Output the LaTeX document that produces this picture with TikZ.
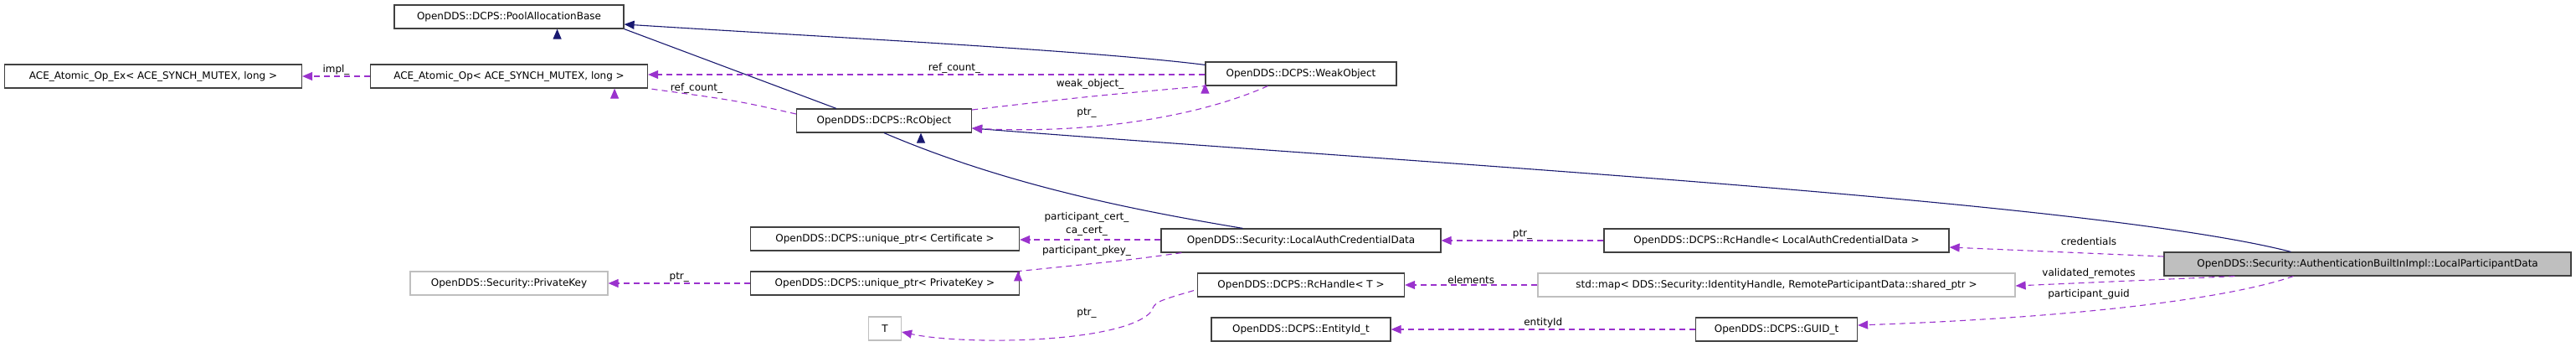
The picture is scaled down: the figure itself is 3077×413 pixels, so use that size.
\documentclass[tikz,border=0pt]{standalone}
\usepackage{fontspec}
\setmainfont{DejaVu Sans}
\usetikzlibrary{arrows.meta}
\definecolor{navy}{HTML}{191970}
\definecolor{purp}{HTML}{9A32CD}
\definecolor{graybd}{HTML}{BFBFBF}
\begin{document}
\begin{tikzpicture}[x=1pt,y=-1pt,
  box/.style={draw=black!75,line width=1.2pt,fill=white,inner sep=0pt,minimum height=28pt,font=\fontsize{12}{14}\selectfont},
  gbox/.style={box,draw=graybd},
  inh/.style={draw=navy,line width=1.1pt,-{Triangle[length=12pt,width=10pt]}},
  use/.style={draw=purp,line width=1.1pt,dash pattern=on 7pt off 5pt,-{Triangle[length=12pt,width=10pt]}},
  lbl/.style={font=\fontsize{12}{13}\selectfont,inner sep=1pt}]
\useasboundingbox (0,0) rectangle (3077,413);
\node[box,minimum width=274pt] (pool) at (608,20) {OpenDDS::DCPS::PoolAllocationBase};
\node[box,minimum width=355pt] (aex) at (183,91) {ACE\_Atomic\_Op\_Ex< ACE\_SYNCH\_MUTEX, long >};
\node[box,minimum width=331pt] (aop) at (608,91) {ACE\_Atomic\_Op< ACE\_SYNCH\_MUTEX, long >};
\node[box,minimum width=228pt] (weak) at (1554,88) {OpenDDS::DCPS::WeakObject};
\node[box,minimum width=209pt] (rc) at (1056,144) {OpenDDS::DCPS::RcObject};
\node[box,minimum width=321pt] (cert) at (1057,285) {OpenDDS::DCPS::unique\_ptr< Certificate >};
\node[box,minimum width=321pt] (upk) at (1057,338) {OpenDDS::DCPS::unique\_ptr< PrivateKey >};
\node[gbox,minimum width=236pt] (pk) at (608,338) {OpenDDS::Security::PrivateKey};
\node[gbox,minimum width=39pt] (t) at (1057,392) {T};
\node[box,minimum width=334pt] (lacd) at (1554,287) {OpenDDS::Security::LocalAuthCredentialData};
\node[box,minimum width=247pt] (rht) at (1554,340) {OpenDDS::DCPS::RcHandle< T >};
\node[box,minimum width=214pt] (eid) at (1554,393) {OpenDDS::DCPS::EntityId\_t};
\node[box,minimum width=412pt] (rhl) at (2122,287) {OpenDDS::DCPS::RcHandle< LocalAuthCredentialData >};
\node[gbox,minimum width=570pt] (map) at (2122,340) {std::map< DDS::Security::IdentityHandle, RemoteParticipantData::shared\_ptr >};
\node[box,minimum width=193pt] (guid) at (2122,393) {OpenDDS::DCPS::GUID\_t};
\node[box,fill=graybd,minimum width=486pt] (lpd) at (2828,315) {OpenDDS::Security::AuthenticationBuiltInImpl::LocalParticipantData};
% inheritance
\draw[inh] (rc.north west) ++(48,0) -- (pool.south east) ++(-80,0) coordinate (pa);
\draw[inh] (weak.north west) ++(0,4) .. controls (1300,60) and (1000,45) .. (pool.east |- 0,29);
\draw[inh] (lacd.north west) ++(98,0) .. controls (1350,250) and (1200,220) .. (rc.south) ++(44,0);
\draw[inh] (lpd.north west) ++(152,0) .. controls (2500,240) and (1700,195) .. (rc.east |- 0,153);
% usage
\draw[use] (aop.west) -- node[lbl,above] {impl\_} (aex.east);
\draw[use] (weak.west |- 0,89) -- node[lbl,above,pos=0.45] {ref\_count\_} (aop.east |- 0,89);
\draw[use] (rc.west |- 0,136) .. controls (880,120) .. (aop.south east) ++(-40,0);
\node[lbl] at (832,105) {ref\_count\_};
\draw[use] (rc.east |- 0,131) .. controls (1300,115) .. (weak.south west) ++(0,-3);
\node[lbl] at (1302,100) {weak\_object\_};
\draw[use] (weak.south west) ++(75,0) .. controls (1430,140) and (1300,160) .. (rc.east |- 0,153);
\node[lbl] at (1298,135) {ptr\_};
\draw[use] (lacd.west |- 0,286) -- (cert.east |- 0,286);
\node[lbl] at (1298,259) {participant\_cert\_};
\node[lbl] at (1298,276) {ca\_cert\_};
\draw[use] (lacd.south west) ++(25,0) .. controls (1350,310) .. (upk.north east) ++(-2,0);
\node[lbl] at (1298,299) {participant\_pkey\_};
\draw[use] (upk.west) -- node[lbl,above] {ptr\_} (pk.east);
\draw[use] (rht.south west) ++(-4,-8) .. controls (1380,360) .. (1375,372) .. controls (1340,410) and (1150,412) .. (t.east |- 0,396);
\node[lbl] at (1298,374) {ptr\_};
\draw[use] (map.west) -- node[lbl,above] {elements} (rht.east);
\draw[use] (guid.west) -- node[lbl,above] {entityId} (eid.east);
\draw[use] (rhl.west) -- node[lbl,above] {ptr\_} (lacd.east);
\draw[use] (lpd.west |- 0,306) -- (rhl.east |- 0,295);
\node[lbl] at (2495,288) {credentials};
\draw[use] (lpd.south west) ++(85,0) -- (map.east |- 0,341);
\node[lbl] at (2495,326) {validated\_remotes};
\draw[use] (lpd.south west) ++(155,0) .. controls (2650,360) and (2450,380) .. (guid.east |- 0,388);
\node[lbl] at (2495,351) {participant\_guid};
\end{tikzpicture}
\end{document}
